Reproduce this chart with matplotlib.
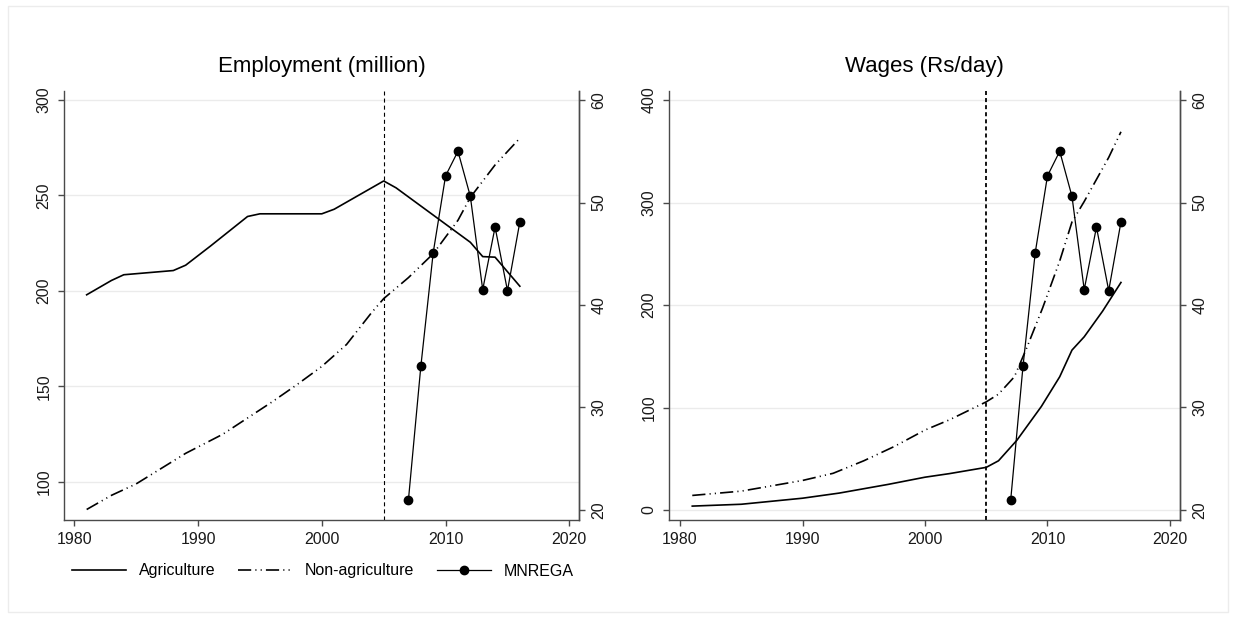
import matplotlib
matplotlib.use('Agg')
import matplotlib.pyplot as plt
from matplotlib.lines import Line2D
from matplotlib.patches import Rectangle

plt.rcParams['font.family'] = ['Liberation Sans', 'DejaVu Sans']
plt.rcParams['lines.scale_dashes'] = False

# Employment (million)
emp_agri_years = [1981, 1983, 1984, 1988, 1989, 1991, 1994, 1995, 2000, 2001, 2005, 2006, 2012, 2013, 2014, 2016]
emp_agri = [198, 205.5, 208.5, 210.7, 213.5, 223.5, 239, 240.4, 240.4, 242.8, 257.6, 254, 225.5, 218, 217.7, 202.5]
emp_nonagri_years = [1981, 1983, 1985, 1987, 1989, 1992, 1994, 1996, 1998, 2000, 2002, 2004, 2005, 2007, 2009, 2011, 2012, 2014, 2016]
emp_nonagri = [85.6, 93, 99, 107, 115, 125, 133.5, 142, 151, 160.5, 172, 188.5, 196, 207, 219.5, 237, 249, 266, 280]

# Wages (Rs/day)
wage_agri_years = [1981, 1985, 1990, 1993, 1997, 2000, 2002, 2005, 2006, 2007.5, 2009.5, 2011, 2012, 2013, 2014.5, 2016]
wage_agri = [3.8, 5.6, 11.5, 16.5, 25, 32, 35.5, 41.6, 48, 68, 101, 130, 156, 169, 194, 222]
wage_nonagri_years = [1981, 1985, 1990, 1992.5, 1995, 1997.5, 2000, 2002, 2005, 2006, 2007.3, 2008.3, 2009.6, 2011, 2012, 2013, 2015, 2016]
wage_nonagri = [14.2, 18.4, 28.8, 35.8, 48, 62, 78, 88, 105.5, 113, 130, 158, 197, 243, 281, 301, 344, 369]

# MNREGA, plotted on the right-hand axis of both panels
mnrega_years = [2007, 2008, 2009, 2010, 2011, 2012, 2013, 2014, 2015, 2016]
mnrega = [21.0, 34.0, 45.1, 52.6, 55.0, 50.6, 41.5, 47.6, 41.4, 48.1]

policy_year = 2005
xticks = [1980, 1990, 2000, 2010, 2020]
right_ticks = [20, 30, 40, 50, 60]

spine_col = '#4a4a4a'
grid_col = '#ebebeb'
dashdot = (0, (9.5, 3, 0.8, 3, 0.8, 3))


def style_axis(ax):
    for side in ['left', 'bottom', 'right']:
        ax.spines[side].set_color(spine_col)
        ax.spines[side].set_linewidth(1.0)
    ax.spines['top'].set_visible(False)
    ax.tick_params(colors=spine_col, labelcolor='#1a1a1a', labelsize=11.5, length=4, width=1.0, pad=4.5)


def draw_panel(ax, title, agri_x, agri_y, nonagri_x, nonagri_y, ylim, yticks, xlim, vline_lw):
    style_axis(ax)
    ax.set_xlim(*xlim)
    ax.set_ylim(*ylim)
    ax.set_xticks(xticks)
    ax.set_yticks(yticks)
    ax.tick_params(axis='y', labelrotation=90, pad=5)
    for lab in ax.get_yticklabels():
        lab.set_verticalalignment('center')
    ax.grid(axis='y', color=grid_col, linewidth=1.0)
    ax.set_axisbelow(True)

    ax.plot(agri_x, agri_y, color='black', linewidth=1.2, label='Agriculture')
    ax.plot(nonagri_x, nonagri_y, color='black', linewidth=1.2, linestyle=dashdot, label='Non-agriculture')
    ax.axvline(policy_year, color='black', linewidth=vline_lw, linestyle=(0, (2.9, 2.2)))
    ax.set_title(title, fontsize=16, pad=14)

    # MNREGA on its own scale
    ax2 = ax.twinx()
    style_axis(ax2)
    ax2.spines['left'].set_visible(False)
    ax2.spines['bottom'].set_visible(False)
    ax2.set_ylim(19.02, 60.88)
    ax2.set_yticks(right_ticks)
    ax2.tick_params(axis='y', labelrotation=90, pad=5)
    for lab in ax2.get_yticklabels():
        lab.set_verticalalignment('center')
    ax2.plot(mnrega_years, mnrega, color='black', linewidth=0.9, marker='o', markersize=6, label='MNREGA')
    return ax2


fig = plt.figure(figsize=(12.36, 6.18), dpi=100)
fig.patch.set_facecolor('white')

ax_emp = fig.add_axes([64 / 1236, 1 - 520 / 618, 515 / 1236, 429 / 618])
ax_wage = fig.add_axes([669 / 1236, 1 - 520 / 618, 511 / 1236, 429 / 618])

draw_panel(ax_emp, 'Employment (million)', emp_agri_years, emp_agri, emp_nonagri_years, emp_nonagri,
           (80.1, 304.7), [100, 150, 200, 250, 300], (1979.17, 2020.78), 0.8)
draw_panel(ax_wage, 'Wages (Rs/day)', wage_agri_years, wage_agri, wage_nonagri_years, wage_nonagri,
           (-9.76, 408.8), [0, 100, 200, 300, 400], (1979.10, 2020.82), 1.3)

# shared legend under the employment panel
handles = [
    Line2D([], [], color='black', linewidth=1.2),
    Line2D([], [], color='black', linewidth=1.2, linestyle=dashdot),
    Line2D([], [], color='black', linewidth=0.9, marker='o', markersize=6),
]
fig.legend(handles, ['Agriculture', 'Non-agriculture', 'MNREGA'], loc='center',
           bbox_to_anchor=(323 / 1236, 1 - 571 / 618), ncol=3, frameon=False,
           fontsize=11.5, handlelength=3.4, handletextpad=0.8, columnspacing=1.4)

# faint outline round the graph region
fig.patches.append(Rectangle((8 / 1236, 6 / 618), 1220 / 1236, 606 / 618, transform=fig.transFigure,
                             fill=False, edgecolor='#ececec', linewidth=1.0))

fig.savefig('out.png', dpi=100)
